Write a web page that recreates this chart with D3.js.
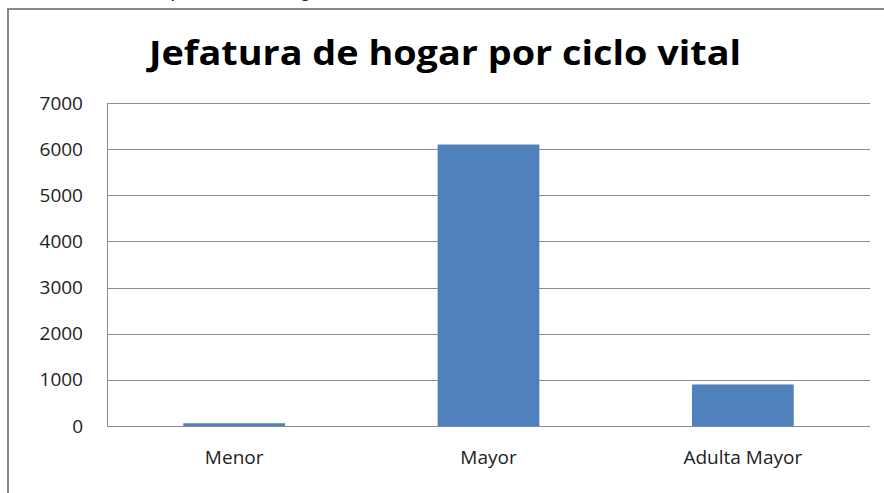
<!DOCTYPE html>
<html>
<head>
<meta charset="utf-8">
<script src="https://cdn.jsdelivr.net/npm/d3@7"></script>
<style>
  body { margin: 0; background: #fff; }
  text { font-family: "Open Sans", "Noto Sans", sans-serif; fill: #222; }
</style>
</head>
<body>
<svg id="chart" width="884" height="493"></svg>
<script>
// data
const categories = ["Menor", "Mayor", "Adulta Mayor"];
const values = [60, 6100, 900];
const yTicks = [0, 1000, 2000, 3000, 4000, 5000, 6000, 7000];

const svg = d3.select("#chart");
const margin = {top: 103, right: 14, bottom: 67, left: 107};
const width = 884 - margin.left - margin.right;
const height = 493 - margin.top - margin.bottom;

// caption above the chart, cut off by the window as in the source
svg.append("text")
    .attr("x", 4)
    .attr("y", -3)
    .style("font-family", "'Liberation Sans', Arial, sans-serif")
    .style("font-size", "20px")
    .text("Gráfico N° 11  Composición de hogares");

// outer chart frame (only top and left are visible)
svg.append("path")
    .attr("d", "M8,520 L8,9 L900,9")
    .attr("fill", "none")
    .attr("stroke", "#888")
    .attr("stroke-width", 2);

svg.append("text")
    .attr("x", 445)
    .attr("y", 65)
    .attr("text-anchor", "middle")
    .attr("textLength", 592)
    .attr("lengthAdjust", "spacingAndGlyphs")
    .style("font-size", "34px")
    .style("font-weight", "bold")
    .style("fill", "#000")
    .text("Jefatura de hogar por ciclo vital");

const g = svg.append("g")
    .attr("transform", "translate(" + margin.left + "," + margin.top + ")");

const x = d3.scaleBand().domain(categories).range([0, width]).paddingInner(0.6).paddingOuter(0.3);
const y = d3.scaleLinear().domain([0, 7000]).range([height, 0]);

// gridlines
g.append("g")
    .selectAll("line")
    .data(yTicks)
    .enter()
    .append("line")
    .attr("x1", 0)
    .attr("x2", width)
    .attr("y1", d => Math.round(y(d)) + 0.5)
    .attr("y2", d => Math.round(y(d)) + 0.5)
    .attr("stroke", "#8c8c8c")
    .attr("stroke-width", 1);

// left axis line
g.append("line")
    .attr("x1", 0.5).attr("x2", 0.5)
    .attr("y1", Math.round(y(7000)) + 0.5)
    .attr("y2", Math.round(y(0)) + 0.5)
    .attr("stroke", "#8c8c8c");

// y labels
const yAxis = g.append("g")
    .call(d3.axisLeft(y).tickValues(yTicks).tickSize(0).tickPadding(24).tickFormat(d3.format("d")));
yAxis.select(".domain").remove();
yAxis.selectAll("text")
    .style("font-size", "19px")
    .style("font-family", "'Open Sans', sans-serif")
    .attr("fill", "#222");

// bars
g.append("g")
    .selectAll("rect")
    .data(values)
    .enter()
    .append("rect")
    .attr("x", (d, i) => x(categories[i]))
    .attr("y", d => y(d))
    .attr("width", x.bandwidth())
    .attr("height", d => y(0) - y(d))
    .attr("fill", "#4f81bd");

// x labels
const xAxis = g.append("g")
    .attr("transform", "translate(0," + height + ")")
    .call(d3.axisBottom(x).tickSize(0).tickPadding(25));
xAxis.select(".domain").remove();
xAxis.selectAll("text")
    .style("font-size", "19px")
    .style("font-family", "'Open Sans', sans-serif")
    .attr("fill", "#222");
</script>
</body>
</html>
